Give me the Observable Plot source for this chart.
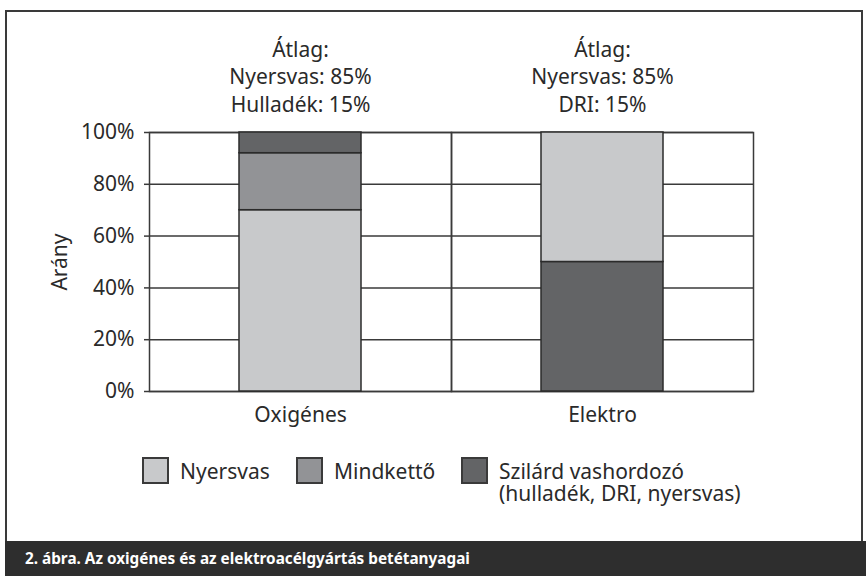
<!DOCTYPE html>
<html>
<head>
<meta charset="utf-8">
<script src="https://cdn.jsdelivr.net/npm/d3@7"></script>
<script src="https://cdn.jsdelivr.net/npm/@observablehq/plot@0.6"></script>
<style>
  html, body { margin: 0; padding: 0; background: #fff; }
  #page { position: relative; width: 866px; height: 576px; overflow: hidden; font-family: "Noto Sans", sans-serif; color: #2a2a2a; }
  #frame { position: absolute; left: 5px; top: 10px; width: 858px; height: 540px; border: 2px solid #3a3a3a; border-bottom: none; box-sizing: border-box; }
  #chart { position: absolute; left: 0; top: 0; }
  #legend { position: absolute; left: 0; top: 0; width: 866px; font-size: 21px; }
  .item { position: absolute; display: flex; align-items: flex-start; }
  .sw { width: 27px; height: 27px; border: 2px solid #3a3a3a; box-sizing: border-box; margin-right: 11px; flex: none; }
  .lbl { line-height: 22px; padding-top: 3px; white-space: pre-line; }
  #caption { position: absolute; left: 5px; top: 541px; width: 861px; height: 35px; background: #2e2e2e; color: #fff; font-weight: bold; font-size: 15.3px; line-height: 35px; padding-left: 20px; box-sizing: border-box; }
</style>
</head>
<body>
<div id="page">
  <div id="frame"></div>
  <div id="chart"></div>
  <div id="legend"></div>
  <div id="caption"></div>
</div>
<script>
// ---- data ----
const categories = ["Oxigénes", "Elektro"];
const seriesNames = ["Nyersvas", "Mindkettő", "Szilárd vashordozó"];
const legendLabels = ["Nyersvas", "Mindkettő", "Szilárd vashordozó\n(hulladék, DRI, nyersvas)"];
const seriesColors = ["#c8c9cb", "#929396", "#636466"];
// stacking order (bottom to top) and values per category
const oxigenesOrder = ["Nyersvas", "Mindkettő", "Szilárd vashordozó"];
const oxigenesValues = [70, 22, 8];
const elektroOrder = ["Szilárd vashordozó", "Nyersvas"];
const elektroValues = [50, 50];
const annotations = ["Átlag:\nNyersvas: 85%\nHulladék: 15%", "Átlag:\nNyersvas: 85%\nDRI: 15%"];
const yTicks = [0, 20, 40, 60, 80, 100];
const yLabel = "Arány";
const captionText = "2. ábra. Az oxigénes és az elektroacélgyártás betétanyagai";

// ---- build table ----
const rows = [];
oxigenesOrder.forEach((s, i) => rows.push({cat: categories[0], series: s, value: oxigenesValues[i]}));
elektroOrder.forEach((s, i) => rows.push({cat: categories[1], series: s, value: elektroValues[i]}));
const annRows = categories.map((c, i) => ({cat: c, text: annotations[i], top: d3.max(yTicks)}));

const font = "Noto Sans, sans-serif";
const plot = Plot.plot({
  width: 866,
  height: 430,
  marginLeft: 148,
  marginRight: 113,
  marginTop: 132,
  marginBottom: 39,
  style: {fontFamily: font, fontSize: "21px", color: "#2a2a2a", background: "transparent"},
  fx: {domain: categories, padding: 0, label: null, axis: null},
  y: {domain: [0, 100], axis: null},
  color: {domain: seriesNames, range: seriesColors},
  marks: [
    Plot.ruleY(yTicks, {stroke: "#3a3a3a", strokeWidth: 1.5}),
    Plot.frame({stroke: "#3a3a3a", strokeWidth: 1.5}),
    Plot.axisY({ticks: yTicks, tickFormat: d => d + "%", label: yLabel, labelArrow: "none", labelAnchor: "center", labelOffset: 97, tickSize: 5, tickPadding: 10, fontSize: 21, stroke: "#3a3a3a", strokeWidth: 1.5}),
    Plot.axisFx({anchor: "bottom", label: null, tickSize: 0, tickPadding: 16, fontSize: 21}),
    Plot.barY(rows, {fx: "cat", y: "value", fill: "series", stroke: "#2b2b2b", strokeWidth: 1.5, insetLeft: 90, insetRight: 90}),
    Plot.text(annRows, {fx: "cat", y: "top", text: "text", lineAnchor: "bottom", lineHeight: 1.29, dy: -21, fontSize: 21, fill: "#2a2a2a"})
  ]
});
document.getElementById("chart").appendChild(plot);

// ---- legend ----
const legendPos = [[142, 457], [296, 457], [461, 457]];
const legend = document.getElementById("legend");
seriesNames.forEach((s, i) => {
  const it = document.createElement("div");
  it.className = "item";
  it.style.left = legendPos[i][0] + "px";
  it.style.top = legendPos[i][1] + "px";
  const sw = document.createElement("div");
  sw.className = "sw";
  sw.style.background = seriesColors[i];
  const lb = document.createElement("div");
  lb.className = "lbl";
  lb.textContent = legendLabels[i];
  it.appendChild(sw);
  it.appendChild(lb);
  legend.appendChild(it);
});
document.getElementById("caption").textContent = captionText;
</script>
</body>
</html>
